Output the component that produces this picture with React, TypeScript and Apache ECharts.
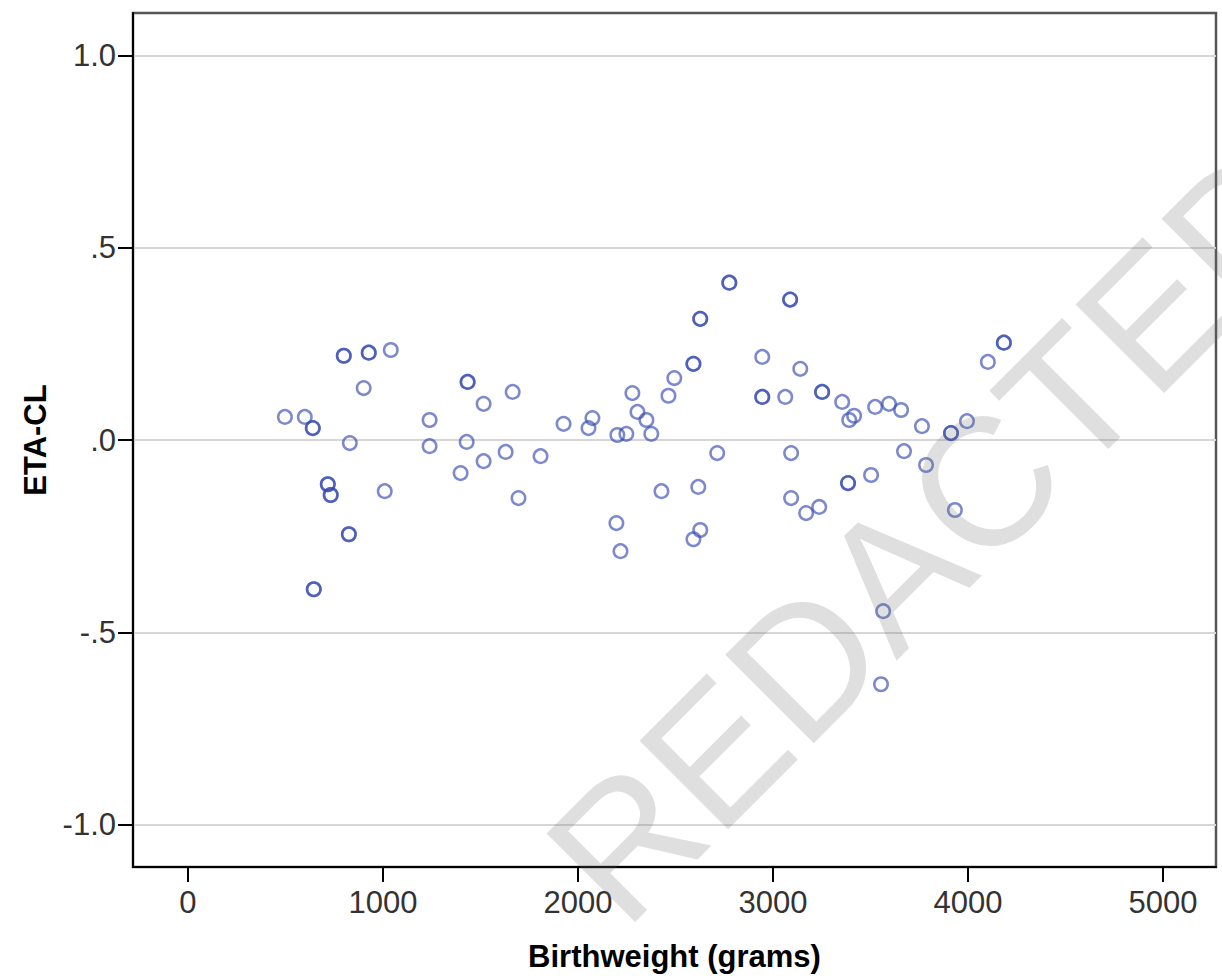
import React, { useEffect, useRef } from 'react';
import * as echarts from 'echarts';

// Birthweight (grams) of each plotted observation
const birthweight = [
  497, 599, 640, 799, 927, 1040, 901, 830, 717, 732, 825, 645, 1009, 1239, 1239,
  1434, 1516, 1665, 1429, 1398, 1516, 1629, 1808, 1695,
  1926, 2054, 2074, 2202, 2248, 2279, 2305, 2351, 2376, 2464, 2494, 2592, 2627, 2776,
  2714, 2428, 2617, 2197, 2218, 2627, 2592,
  3088, 2945, 3140, 2945, 3063, 3252, 3355, 3093, 3093, 3170, 3237, 3385,
  3391, 3416, 3524, 3595, 3657, 3764, 3913, 3995, 4102, 4184,
  3672, 3785, 3503, 3933, 3565, 3554,
];
// ETA-CL value of each observation
const etaCL = [
  0.06, 0.06, 0.031, 0.219, 0.227, 0.234, 0.135, -0.008, -0.115, -0.143, -0.245, -0.388, -0.133, 0.052, -0.016,
  0.151, 0.094, 0.125, -0.005, -0.086, -0.055, -0.031, -0.042, -0.151,
  0.042, 0.031, 0.057, 0.013, 0.016, 0.122, 0.073, 0.052, 0.016, 0.115, 0.161, 0.198, 0.315, 0.409,
  -0.034, -0.133, -0.122, -0.216, -0.289, -0.234, -0.258,
  0.365, 0.216, 0.185, 0.112, 0.112, 0.125, 0.099, -0.034, -0.151, -0.19, -0.174, -0.112,
  0.052, 0.063, 0.086, 0.094, 0.078, 0.036, 0.018, 0.049, 0.203, 0.253,
  -0.029, -0.065, -0.091, -0.182, -0.445, -0.635,
];
// number of coinciding observations drawn at each point
const overlapCount = [
  1, 1, 2, 2, 2, 1, 1, 1, 2, 2, 2, 2, 1, 1, 1,
  2, 1, 1, 1, 1, 1, 1, 1, 1,
  1, 1, 1, 1, 1, 1, 1, 1, 1, 1, 1, 2, 2, 2,
  1, 1, 1, 1, 1, 1, 1,
  2, 1, 1, 2, 1, 2, 1, 1, 1, 1, 1, 2,
  1, 1, 1, 1, 1, 1, 2, 1, 1, 2,
  1, 1, 1, 1, 1, 1,
];

const xTicks = [0, 1000, 2000, 3000, 4000, 5000];
const yTicks = [-1, -0.5, 0, 0.5, 1];
const yTickLabels = ['-1.0', '-.5', '.0', '.5', '1.0'];

const xTitle = 'Birthweight (grams)';
const yTitle = 'ETA-CL';
const watermark = 'REDACTED';

export default function App() {
  const ref = useRef<HTMLDivElement>(null);

  useEffect(() => {
    document.body.style.margin = '0';
    if (!ref.current) return;
    const chart = echarts.init(ref.current, null, { renderer: 'svg' });

    const points: number[][] = [];
    birthweight.forEach((bw, i) => {
      for (let k = 0; k < overlapCount[i]; k++) points.push([bw, etaCL[i]]);
    });

    const font = '"Liberation Sans", Arial, sans-serif';

    chart.setOption({
      animation: false,
      backgroundColor: '#ffffff',
      grid: {
        left: 133,
        top: 13,
        right: 6,
        bottom: 112,
        show: true,
        borderColor: '#555555',
        borderWidth: 2.5,
        backgroundColor: 'transparent',
      },
      xAxis: {
        type: 'value',
        min: -282,
        max: 5272,
        name: xTitle,
        nameLocation: 'middle',
        nameGap: 74,
        nameTextStyle: { fontFamily: font, fontSize: 31, fontWeight: 'bold', color: '#000' },
        axisLine: { show: true, onZero: false, lineStyle: { color: '#000', width: 2 } },
        axisTick: { show: true, length: 15, customValues: xTicks, lineStyle: { color: '#000', width: 2 } },
        axisLabel: {
          customValues: xTicks,
          margin: 20,
          fontFamily: font,
          fontSize: 31,
          color: '#333333',
          formatter: (v: number) => String(v),
        },
        splitLine: { show: false },
      },
      yAxis: {
        type: 'value',
        min: -1.11,
        max: 1.11,
        name: yTitle,
        nameLocation: 'middle',
        nameGap: 82,
        nameRotate: 90,
        nameTextStyle: { fontFamily: font, fontSize: 31, fontWeight: 'bold', color: '#000' },
        axisLine: { show: true, onZero: false, lineStyle: { color: '#000', width: 2 } },
        axisTick: { show: true, length: 15, customValues: yTicks, lineStyle: { color: '#000', width: 2 } },
        axisLabel: {
          customValues: yTicks,
          margin: 17,
          fontFamily: font,
          fontSize: 31,
          color: '#333333',
          formatter: (v: number) => {
            const idx = yTicks.findIndex((t) => Math.abs(t - v) < 1e-9);
            return idx >= 0 ? yTickLabels[idx] : '';
          },
        },
        splitLine: { show: true, lineStyle: { color: '#d6d6d6', width: 2 } },
      },
      series: [
        {
          type: 'scatter',
          data: points,
          symbol: 'circle',
          symbolSize: 13.5,
          itemStyle: {
            color: 'rgba(0,0,0,0)',
            borderColor: 'rgba(50,72,176,0.8)',
            borderWidth: 2.5,
          },
          emphasis: { disabled: true },
          z: 3,
        },
      ],
      graphic: [
        {
          type: 'text',
          x: 580,
          y: 888,
          rotation: Math.PI / 4,
          silent: true,
          z: 100,
          style: {
            text: watermark,
            font: `182px ${font}`,
            fill: 'rgba(110,110,110,0.22)',
            align: 'left',
            verticalAlign: 'middle',
          },
        },
      ],
    });

    return () => chart.dispose();
  }, []);

  return <div ref={ref} style={{ width: 1222, height: 979 }} />;
}
